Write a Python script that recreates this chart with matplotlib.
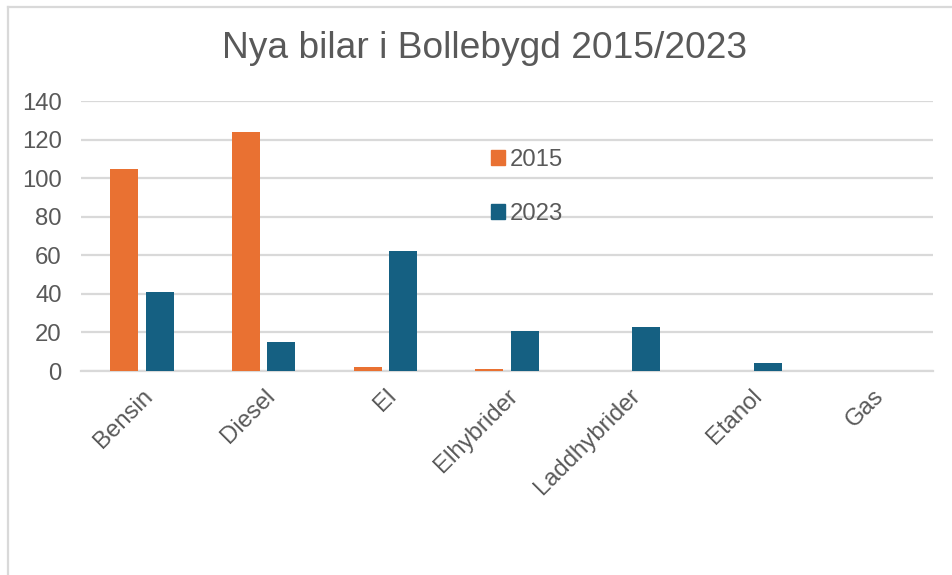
import numpy as np
import matplotlib.pyplot as plt
from matplotlib.patches import Patch
from matplotlib.lines import Line2D

categories = ["Bensin", "Diesel", "El", "Elhybrider", "Laddhybrider", "Etanol", "Gas"]
cars_2015 = [105, 124, 2, 1, 0, 0, 0]
cars_2023 = [41, 15, 62, 21, 23, 4, 0]
yticks = [0, 20, 40, 60, 80, 100, 120, 140]

ORANGE = "#E97132"
BLUE = "#156082"
TEXT = "#595959"
GRID = "#D9D9D9"

plt.rcParams["font.family"] = ["Liberation Sans", "DejaVu Sans"]

W, H = 952, 575
fig = plt.figure(figsize=(W / 100, H / 100), dpi=100)

# plot area in pixel terms
left, right, bottom, top = 81, 933, 371, 101
ax = fig.add_axes([left / W, 1 - bottom / H, (right - left) / W, (bottom - top) / H])

x = np.arange(len(categories))
bw = 0.23
ax.bar(x - 0.145, cars_2015, bw, color=ORANGE, zorder=3)
ax.bar(x + 0.145, cars_2023, bw, color=BLUE, zorder=3)

ax.set_xlim(-0.5, len(categories) - 0.5)
ax.set_ylim(0, 140)
ax.set_yticks(yticks)
ax.set_xticks(x)
ax.set_xticklabels(categories, rotation=45, ha="right", rotation_mode="anchor")
ax.tick_params(axis="both", length=0, labelsize=17.2, colors=TEXT)
ax.tick_params(axis="y", pad=14)
ax.tick_params(axis="x", pad=10)

for s in ["top", "right", "left"]:
    ax.spines[s].set_visible(False)
ax.spines["bottom"].set_color(GRID)
ax.spines["bottom"].set_linewidth(1.6)
ax.grid(axis="y", color=GRID, linewidth=1.6, zorder=0)

handles = [Patch(color=ORANGE), Patch(color=BLUE)]
leg = ax.legend(handles, ["2015", "2023"], loc="upper left",
                bbox_to_anchor=(491 / W, 1 - 149 / H), bbox_transform=fig.transFigure,
                frameon=False, fontsize=17.2, labelcolor=TEXT,
                handlelength=0.6, handleheight=0.6, handletextpad=0.2,
                labelspacing=1.35, borderpad=0, borderaxespad=0)

fig.text(484 / W, 1 - 48 / H, "Nya bilar i Bollebygd 2015/2023",
         ha="center", va="center", fontsize=26.7, color=TEXT)

# chart frame (only left and top edges visible)
fig.add_artist(Line2D([7.5 / W, 7.5 / W], [0, 1 - 7 / H], transform=fig.transFigure,
                      color=GRID, linewidth=1.6))
fig.add_artist(Line2D([7.5 / W, 1], [1 - 7 / H, 1 - 7 / H], transform=fig.transFigure,
                      color=GRID, linewidth=1.6))

fig.savefig("out.png", dpi=100, facecolor="white")
